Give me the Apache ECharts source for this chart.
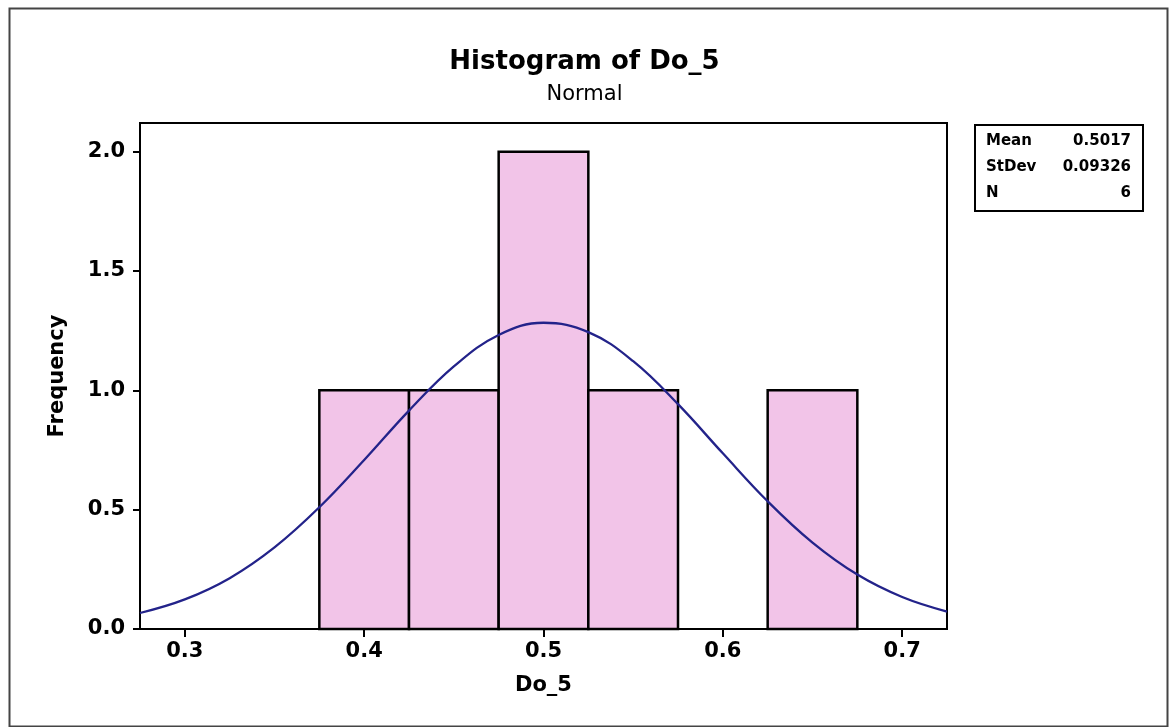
<!DOCTYPE html>
<html>
<head>
<meta charset="utf-8">
<title>Histogram of Do_5</title>
<script src="https://cdn.jsdelivr.net/npm/echarts@6/dist/echarts.min.js"></script>
<style>
  html, body { margin: 0; padding: 0; background: #ffffff; }
  #chart { width: 1169px; height: 727px; }
</style>
</head>
<body>
<div id="chart"></div>
<script>
// Histogram bins (lower/upper edges) and counts
const binStart = [0.375, 0.425, 0.475, 0.525, 0.575, 0.625];
const binEnd   = [0.425, 0.475, 0.525, 0.575, 0.625, 0.675];
const counts   = [1, 1, 2, 1, 0, 1];

// Fitted normal curve points
const curveX = [0.275, 0.3, 0.325, 0.35, 0.375, 0.4, 0.425, 0.45, 0.475, 0.5,
                0.525, 0.55, 0.575, 0.6, 0.625, 0.65, 0.675, 0.7, 0.725];
const curveY = [0.067, 0.124, 0.213, 0.342, 0.510, 0.708, 0.915, 1.100, 1.232, 1.283,
                1.244, 1.122, 0.942, 0.736, 0.535, 0.362, 0.228, 0.134, 0.073];

// Tick labels
const xTicks = [0.3, 0.4, 0.5, 0.6, 0.7];
const yTicks = [0.0, 0.5, 1.0, 1.5, 2.0];

// Summary statistics
const statNames  = ['Mean', 'StDev', 'N'];
const statValues = ['0.5017', '0.09326', '6'];

const FONT = 'DejaVu Sans';
const chart = echarts.init(document.getElementById('chart'), null, { renderer: 'canvas' });

const barData = binStart.map((s, i) => [s, binEnd[i], counts[i]]);
const lineData = curveX.map((x, i) => [x, curveY[i]]);

const statGraphics = [];
statNames.forEach((name, i) => {
  const top = 134 + i * 26;
  statGraphics.push({
    type: 'text', left: 986, top: top,
    style: { text: name, font: 'bold 15px "' + FONT + '"', fill: '#000' }
  });
  statGraphics.push({
    type: 'text', right: 1169 - 1131, top: top,
    style: { text: statValues[i], font: 'bold 15px "' + FONT + '"', fill: '#000', align: 'right' }
  });
});

chart.setOption({
  animation: false,
  backgroundColor: '#ffffff',
  title: {
    text: 'Histogram of Do_5',
    subtext: 'Normal',
    left: 'center',
    top: 44,
    itemGap: 9,
    textStyle: { fontFamily: FONT, fontSize: 26, fontWeight: 'bold', color: '#000' },
    subtextStyle: { fontFamily: FONT, fontSize: 21, color: '#000' }
  },
  grid: {
    left: 140, top: 123, right: 222, bottom: 98,
    show: true, borderColor: '#000', borderWidth: 2, backgroundColor: 'transparent'
  },
  xAxis: {
    type: 'value', min: 0.275, max: 0.725,
    name: 'Do_5', nameLocation: 'middle', nameGap: 46,
    nameTextStyle: { fontFamily: FONT, fontSize: 21, fontWeight: 'bold', color: '#000' },
    axisLine: { show: true, lineStyle: { color: '#000', width: 2 } },
    axisTick: { show: true, length: 8, customValues: xTicks, lineStyle: { color: '#000', width: 2 } },
    axisLabel: {
      customValues: xTicks, margin: 12,
      fontFamily: FONT, fontSize: 21, fontWeight: 'bold', color: '#000',
      formatter: v => v.toFixed(1)
    },
    splitLine: { show: false }
  },
  yAxis: {
    type: 'value', min: 0, max: 2.12,
    name: 'Frequency', nameLocation: 'middle', nameGap: 72, nameRotate: 90,
    nameTextStyle: { fontFamily: FONT, fontSize: 21, fontWeight: 'bold', color: '#000' },
    axisLine: { show: true, lineStyle: { color: '#000', width: 2 } },
    axisTick: { show: true, length: 7, customValues: yTicks, lineStyle: { color: '#000', width: 2 } },
    axisLabel: {
      customValues: yTicks, margin: 15,
      fontFamily: FONT, fontSize: 21, fontWeight: 'bold', color: '#000',
      formatter: v => v.toFixed(1)
    },
    splitLine: { show: false }
  },
  series: [
    {
      type: 'custom',
      data: barData,
      encode: { x: [0, 1], y: 2 },
      renderItem: function (params, api) {
        const h = api.value(2);
        if (!h) return null;
        const p0 = api.coord([api.value(0), h]);
        const p1 = api.coord([api.value(1), 0]);
        return {
          type: 'rect',
          shape: { x: p0[0], y: p0[1], width: p1[0] - p0[0], height: p1[1] - p0[1] },
          style: { fill: '#f2c4e8', stroke: '#000', lineWidth: 2.5 }
        };
      },
      z: 2
    },
    {
      type: 'line',
      data: lineData,
      smooth: 0.4,
      showSymbol: false,
      lineStyle: { color: '#23238a', width: 2.3 },
      z: 3
    }
  ],
  graphic: [
    {
      type: 'rect', left: 7, top: 6, z: -1,
      shape: { width: 1158, height: 718 },
      style: { fill: 'none', stroke: '#444', lineWidth: 2 }
    },
    {
      type: 'rect', left: 974, top: 124,
      shape: { width: 168, height: 86 },
      style: { fill: '#fff', stroke: '#000', lineWidth: 2 }
    }
  ].concat(statGraphics)
});
</script>
</body>
</html>
